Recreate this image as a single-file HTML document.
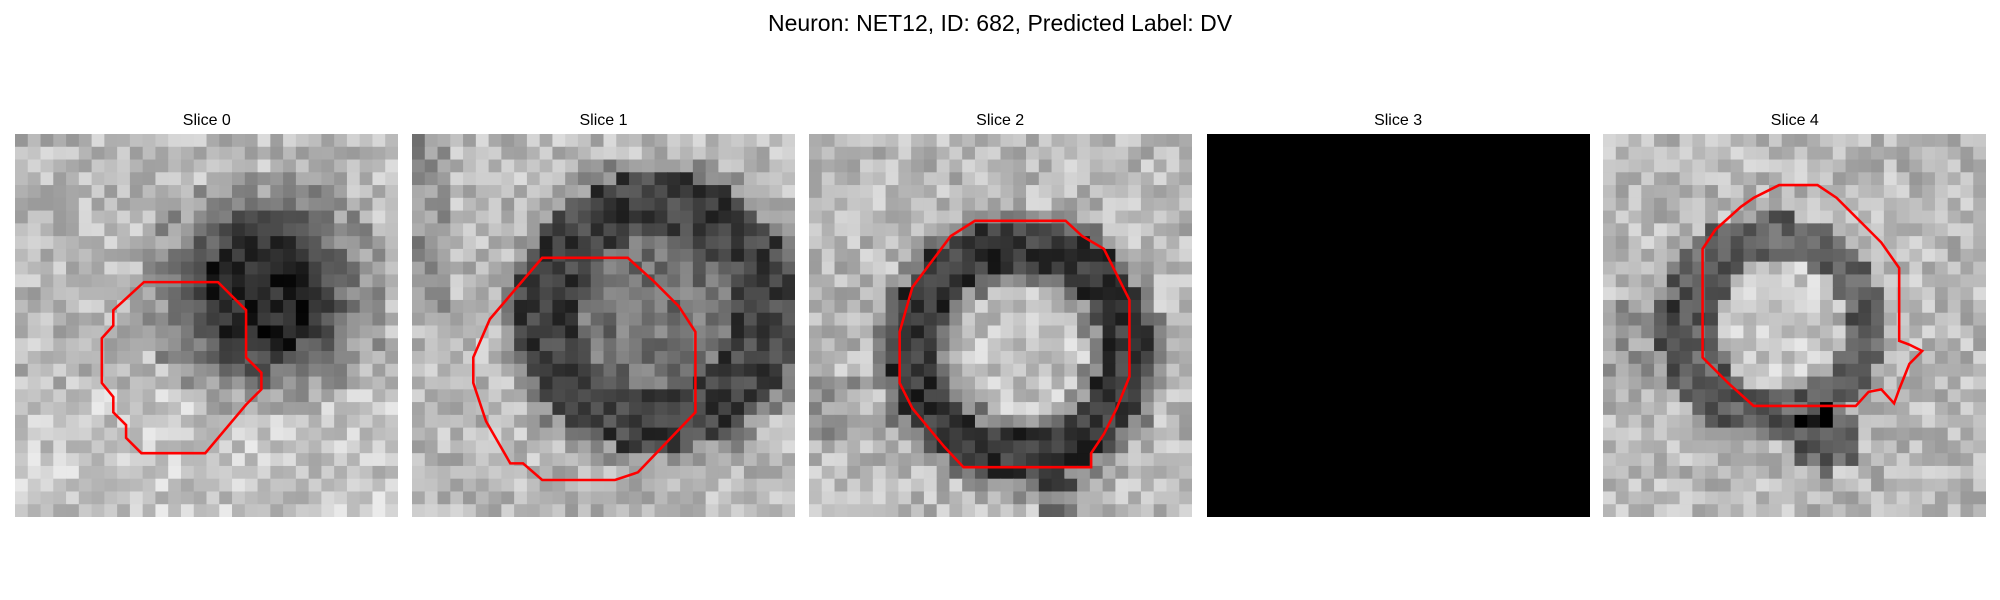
<!DOCTYPE html>
<html><head><meta charset="utf-8">
<style>
body{margin:0;background:#fff;width:2000px;height:600px;overflow:hidden;font-family:"Liberation Sans","DejaVu Sans",sans-serif;}
#title{position:absolute;top:10px;left:0;width:2000px;text-align:center;font-size:23px;color:#000;}
.lbl{position:absolute;top:112px;width:383px;text-align:center;font-size:16px;color:#000;}
svg.p{position:absolute;top:134px;width:383px;height:383px;}
</style></head><body>
<div id="title">Neuron: NET12, ID: 682, Predicted Label: DV</div>
<div id="root"></div>
<script>
const sliceNames=["Slice 0","Slice 1","Slice 2","Slice 3","Slice 4"];
const panelLeft=[15.3,412,808.7,1206.6,1603.3];
const contours=[
 [[101,116],[159,116],[181,138],[181,175],[193,187],[193,200],[181,212],[149,250],[99,250],[87,238],[87,228],[77,218],[77,206],[68,195],[68,160],[77,150],[77,138]],
 [[102,97],[169,97],[189,115],[209,135],[222,155],[222,218],[177,265],[159,271],[102,271],[87,258],[77,258],[58,225],[48,195],[48,175],[61,145]],
 [[130,68],[201,68],[214,80],[231,90],[241,110],[251,130],[251,190],[241,215],[231,235],[221,250],[221,261],[121,261],[106,245],[81,215],[71,195],[71,155],[81,120],[96,100],[111,80]],
 null,
 [[138,40],[168,40],[183,50],[218,85],[232,105],[232,162],[240,165],[250,170],[240,180],[232,200],[228,211],[218,200],[208,202],[198,213],[118,213],[98,195],[78,175],[78,90],[88,75],[108,57],[118,50],[128,45]]
];
function hash(i,j,k){let h=(i*374761393+j*668265263+k*2147483647)>>>0;h=(h^(h>>>13))*1274126177>>>0;return ((h^(h>>>16))>>>0)/4294967296;}
function val(k,x,y){
 let base=185+ (hash(x,y,k)-0.5)*70;
 if(k===3) return 0;
 if(k===0){const d=Math.hypot(x-19,y-12);if(d<5)base-=150;else if(d<8)base-=110*(1-(d-5)/5);else if(d<10)base-=35;if(y>19)base+=15;}
 if(k===1){const d=Math.hypot(x-18.7,y-13.5);if(Math.abs(d-8.5)<2.5)base-=120;else if(d<6)base-=70;else if(Math.abs(d-8.5)<4)base-=40;if(x<3&&y<14)base-=40;}
 if(k===2){const d=Math.hypot(x-16,y-16.5);if(Math.abs(d-8.3)<2)base-=130;else if(Math.abs(d-8.3)<3.2)base-=50;else if(d<6)base+=10;if(x>17&&x<21&&y>26)base-=60;if(x<4&&y>18&&y<24)base-=30;}
 if(k===4){const d=Math.hypot(x-13,y-14.5);const w=(x<10)?2.3:1.6;if(Math.abs(d-7)<w)base-=90;else if(d<5)base+=15;if(Math.hypot(x-17,y-23.5)<2.6)base-=90;if(x<6&&y>12&&y<20)base-=30;}
 return Math.max(0,Math.min(255,base));
}
const root=document.getElementById('root');
const NS="http://www.w3.org/2000/svg";
for(let k=0;k<5;k++){
 const l=document.createElement('div');l.className='lbl';l.style.left=panelLeft[k]+'px';l.textContent=sliceNames[k];
 
 
 root.appendChild(l);
 const s=document.createElementNS(NS,'svg');s.setAttribute('class','p');s.setAttribute('viewBox','0 0 300 300');s.setAttribute('preserveAspectRatio','none');s.style.left=panelLeft[k]+'px';
 
 
 let html='';
 for(let y=0;y<30;y++)for(let x=0;x<30;x++){const v=Math.round(val(k,x,y));html+=`<rect x="${x*10}" y="${y*10}" width="10.5" height="10.5" fill="rgb(${v},${v},${v})"/>`;}
 if(contours[k]){html+=`<polygon points="${contours[k].map(p=>p.join(',')).join(' ')}" fill="none" stroke="#f00" stroke-width="2"/>`;}
 s.innerHTML=html;root.appendChild(s);
}
</script>
</body></html>
